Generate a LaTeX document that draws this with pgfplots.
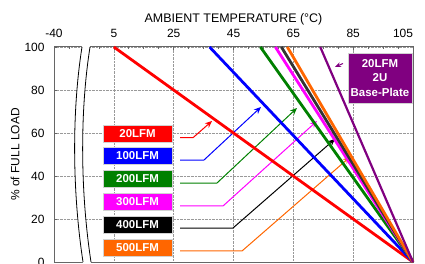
\documentclass[border=0pt]{standalone}
\usepackage{pgfplots}
\pgfplotsset{compat=1.18}
\usepackage{fontspec}
\setmainfont{Liberation Sans}
\usetikzlibrary{arrows.meta}
\definecolor{cred}{RGB}{255,0,0}
\definecolor{cblue}{RGB}{0,0,255}
\definecolor{cgreen}{RGB}{0,128,0}
\definecolor{cmag}{RGB}{255,0,255}
\definecolor{corange}{RGB}{255,102,0}
\definecolor{cpurple}{RGB}{128,0,128}
\begin{document}
\begin{tikzpicture}
\begin{axis}[
  scale only axis, width=359bp, height=215bp,
  xmin=-15, xmax=105, ymin=0, ymax=100,
  clip=false,
  axis line style={black!60, line width=1bp},
  xtick={-15,5,25,45,65,85,105},
  xticklabels={-40,5,25,45,65,85,\makebox[0pt][r]{105}},
  xticklabel pos=upper, xtick pos=upper,
  minor x tick num=3,
  ytick={0,20,40,60,80,100}, ytick pos=left,
  tick align=inside,
  major tick length=3bp, minor tick length=2.5bp,
  tick style={black!60, line width=0.6bp},
  grid=major,
  major grid style={densely dotted, gray!80, line width=0.6bp},
  /pgf/number format/assume math mode=true,
  ticklabel style={font=\fontsize{12}{14}\selectfont},
  xticklabel style={yshift=6bp},
  yticklabel style={xshift=-6bp},
  xlabel={AMBIENT TEMPERATURE (°C)},
  ylabel={\% of FULL LOAD},
  every axis x label/.style={at={(axis description cs:0.5,1)},anchor=base,yshift=24bp,font=\fontsize{12.5}{14}\selectfont},
  every axis y label/.style={at={(axis description cs:-0.1086,0.5)},anchor=center,rotate=90,font=\fontsize{12}{14}\selectfont},
]
% annotation arrows
\addplot[cred, line width=1bp, -{Stealth[length=7bp,width=6bp]}] coordinates {(27.12,57.81) (31.46,57.81) (37.81,65.58)};
\addplot[cblue, line width=1bp, -{Stealth[length=7bp,width=6bp]}] coordinates {(27.12,47.44) (35.14,47.44) (54.19,72.09)};
\addplot[cgreen, line width=1bp, -{Stealth[length=7bp,width=6bp]}] coordinates {(27.12,36.74) (39.48,36.74) (66.22,71.63)};
\addplot[cmag, line width=1bp, -{Stealth[length=7bp,width=6bp]}] coordinates {(27.12,26.05) (41.49,26.05) (72.91,65.58)};
\addplot[black, line width=1bp, -{Stealth[length=7bp,width=6bp]}] coordinates {(27.12,15.81) (44.83,15.81) (78.93,57.21)};
\addplot[corange, line width=1bp, -{Stealth[length=7bp,width=6bp]}] coordinates {(27.12,5.12) (47.84,5.12) (83.94,48.84)};
\addplot[cpurple, line width=1bp, -{Stealth[length=6bp,width=5bp]}] coordinates {(81.6,92.33) (78.93,90.7)};
% derating lines
\addplot[cred, line width=2.8bp] coordinates {(5,100) (105,0)};
\addplot[cblue, line width=2.8bp] coordinates {(37,100) (105,0)};
\addplot[cgreen, line width=2.8bp] coordinates {(54,100) (105,0)};
\addplot[cmag, line width=2.8bp] coordinates {(59,100) (105,0)};
\addplot[black!80, line width=2.8bp] coordinates {(61,100) (105,0)};
\addplot[corange, line width=2.8bp] coordinates {(63,100) (105,0)};
\addplot[cpurple, line width=2.2bp] coordinates {(74,100) (105,0)};
% axis break
\fill[white] (-5.64,100.5) .. controls (-8.98,70.7) and (-8.98,33.5) .. (-5.3,-0.5)
  -- (-2.63,-0.5) .. controls (-6.3,33.5) and (-6.3,70.7) .. (-2.96,100.5) -- cycle;
\draw[black, line width=0.8bp] (-5.64,100) .. controls (-8.98,70.7) and (-8.98,33.5) .. (-5.3,0);
\draw[black, line width=0.8bp] (-2.96,100) .. controls (-6.3,70.7) and (-6.3,33.5) .. (-2.63,0);
% legend boxes
\tikzset{lbox/.style={text=white, draw=gray!35, line width=0.5bp, font=\bfseries\fontsize{11.5}{13}\selectfont, minimum width=69bp, minimum height=17bp, inner sep=0pt}}
\node[lbox, fill=cred] at (12.93,59.8) {20LFM};
\node[lbox, fill=cblue] at (12.93,49.3) {100LFM};
\node[lbox, fill=cgreen] at (12.93,38.6) {200LFM};
\node[lbox, fill=cmag] at (12.93,28.1) {300LFM};
\node[lbox, fill=black] at (12.93,17.4) {400LFM};
\node[lbox, fill=corange] at (12.93,6.7) {500LFM};
\node[fill=cpurple, draw=gray!35, line width=0.5bp, text=white, font=\bfseries\fontsize{11.5}{15}\selectfont, align=center, minimum width=64bp, minimum height=50bp, inner sep=0pt] at (93.97,85.58) {20LFM\\2U\\Base-Plate};
\coordinate (SW) at (rel axis cs:0,0);
\coordinate (NE) at (rel axis cs:1,1);
\end{axis}
\pgfresetboundingbox
\path ([shift={(-54bp,-2bp)}]SW) rectangle ([shift={(12bp,47bp)}]NE);
\end{tikzpicture}
\end{document}
